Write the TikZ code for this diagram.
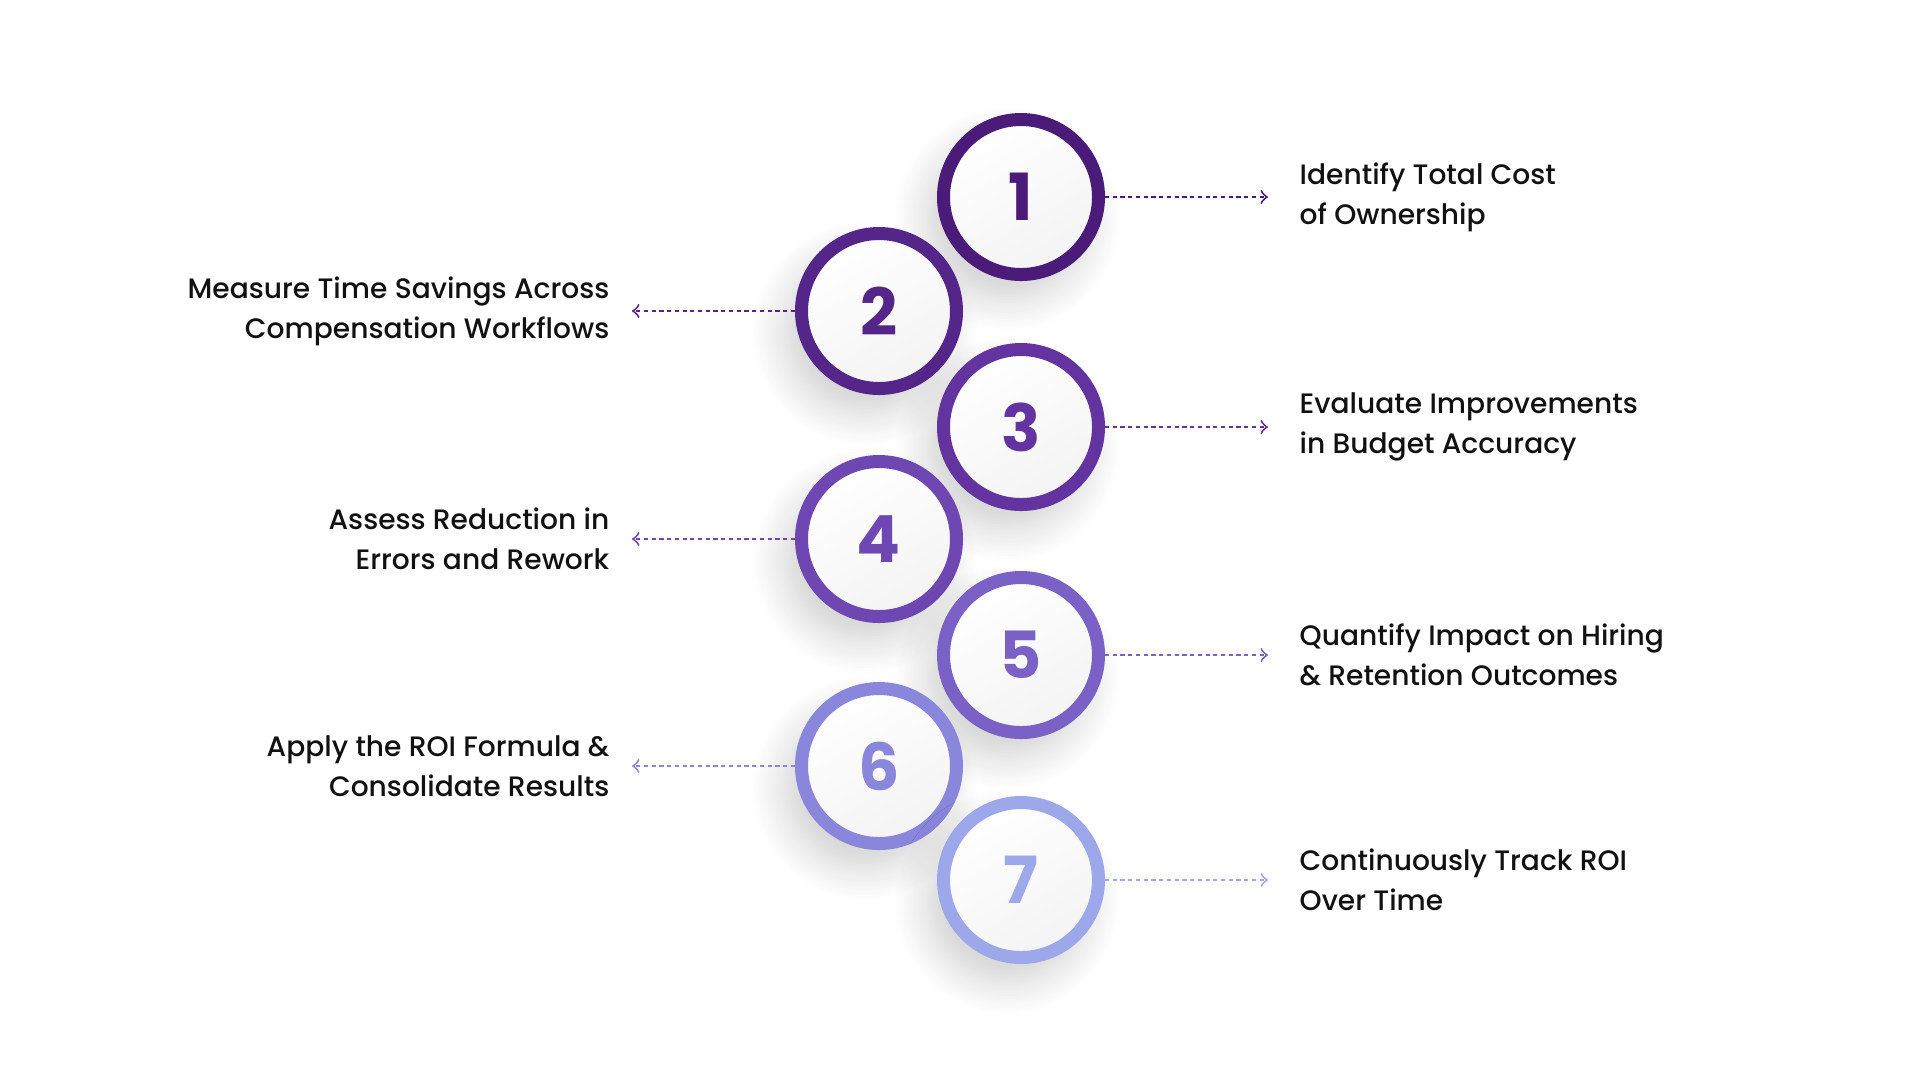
\documentclass[tikz,border=0pt]{standalone}
\usepackage{fontspec}
\setmainfont{Poppins}[UprightFont={* Medium}, BoldFont={* Bold}]
\usepackage{xcolor}
\usetikzlibrary{positioning,shadows.blur,arrows}

\definecolor{stepone}{HTML}{4A1B78}
\definecolor{steptwo}{HTML}{55268A}
\definecolor{stepthree}{HTML}{6333A0}
\definecolor{stepfour}{HTML}{6E47B2}
\definecolor{stepfive}{HTML}{7A61C6}
\definecolor{stepsix}{HTML}{8A86DC}
\definecolor{stepseven}{HTML}{9CA8EA}
\definecolor{inktext}{HTML}{111111}

\begin{document}
\begin{tikzpicture}[
    x=0.1mm, y=-0.1mm,
    node distance=16.3mm,
    stepcirc/.style={circle, draw=#1, line width=1.3mm, minimum size=15.5mm, inner sep=0pt,
        top color=white, bottom color=gray!9, shading angle=30, text=#1,
        font=\fontsize{18.5}{18.5}\selectfont\bfseries,
        blur shadow={shadow xshift=-1.4mm, shadow yshift=-2.2mm, shadow blur radius=3.5mm,
            shadow blur steps=14, shadow opacity=20}},
    rtext/.style={align=left, inner xsep=3.1mm, text=inktext, font=\fontsize{8}{11.4}\selectfont},
    ltext/.style={align=right, inner xsep=2.2mm, text=inktext, font=\fontsize{8}{11.4}\selectfont},
    link/.style={->, draw=#1, line width=0.55pt, dash pattern=on 1.2pt off 1pt}
]
    \useasboundingbox (0,0) rectangle (1920,1080);

    % the seven steps, zig-zag
    \node[stepcirc=stepone]   (c1) at (1021,197) {1};
    \node[stepcirc=steptwo]   (c2) at (879,311)  {2};
    \node[stepcirc=stepthree] (c3) at (1021,427) {3};
    \node[stepcirc=stepfour]  (c4) at (879,539)  {4};
    \node[stepcirc=stepfive]  (c5) at (1021,655) {5};
    \node[stepcirc=stepsix]   (c6) at (879,766)  {6};
    \node[stepcirc=stepseven] (c7) at (1021,880) {7};

    % labels
    \node[rtext, right=of c1] (t1) {Identify Total Cost\\of Ownership};
    \node[ltext, left=of c2]  (t2) {Measure Time Savings Across\\Compensation Workflows};
    \node[rtext, right=of c3] (t3) {Evaluate Improvements\\in Budget Accuracy};
    \node[ltext, left=of c4]  (t4) {Assess Reduction in\\Errors and Rework};
    \node[rtext, right=of c5] (t5) {Quantify Impact on Hiring\\\& Retention Outcomes};
    \node[ltext, left=of c6]  (t6) {Apply the ROI Formula \&\\Consolidate Results};
    \node[rtext, right=of c7] (t7) {Continuously Track ROI\\Over Time};

    \draw[link=stepone]   (c1) -- (t1);
    \draw[link=steptwo]   (c2) -- (t2);
    \draw[link=stepthree] (c3) -- (t3);
    \draw[link=stepfour]  (c4) -- (t4);
    \draw[link=stepfive]  (c5) -- (t5);
    \draw[link=stepsix]   (c6) -- (t6);
    \draw[link=stepseven] (c7) -- (t7);
\end{tikzpicture}
\end{document}
